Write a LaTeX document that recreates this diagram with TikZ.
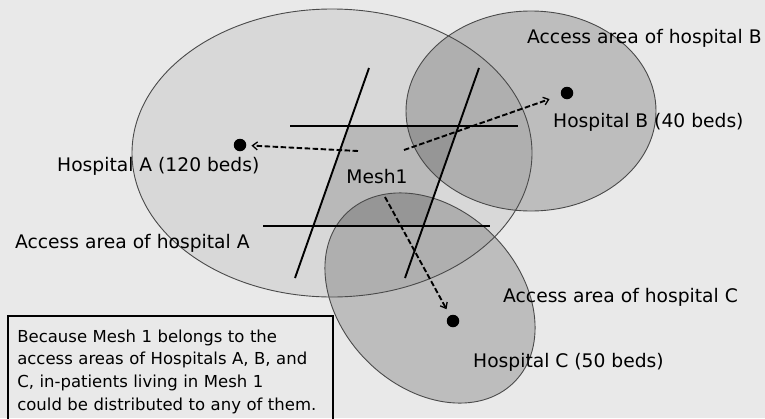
\documentclass[tikz,border=0pt]{standalone}
\usepackage{fontspec}
\setmainfont{DejaVu Sans}
\usepackage{xcolor}
\usepackage{tikz}
\usetikzlibrary{arrows.meta,positioning,calc}
\definecolor{paper}{HTML}{E9E9E9}
\definecolor{rimgray}{HTML}{4A4A4A}

\begin{document}
\begin{tikzpicture}[
  x=1pt,y=-1pt,
  every node/.style={font=\fontsize{18.7}{22}\selectfont,inner sep=0pt},
  areaA/.style={fill=black,fill opacity=0.07},
  areaBC/.style={fill=black,fill opacity=0.19},
  cellfill/.style={fill=black,fill opacity=0.14},
  rim/.style={draw=rimgray,line width=0.9pt},
  gridline/.style={draw=black,line width=1.9pt},
  hosp/.style={circle,fill=black,minimum size=12.5pt},
  flow/.style={-{Straight Barb[length=5pt,width=8pt,line width=1.3pt]},draw=black,line width=1.9pt,dash pattern=on 5.5pt off 2.5pt},
  tag/.style={anchor=west},
  notebox/.style={draw=black,line width=1.6pt,anchor=north west,align=left,text width=306pt,inner xsep=9.5pt,inner ysep=14pt,font=\fontsize{16.5}{22.6}\selectfont}
]
  \fill[paper] (0,0) rectangle (765,418);
  \useasboundingbox (0,0) rectangle (765,418);
  % access areas
  \fill[areaA] (332,153) ellipse [x radius=200pt,y radius=144pt];
  \fill[areaBC] (531,111) ellipse [x radius=125pt,y radius=100pt];
  \fill[areaBC,rotate around={-45:(430,298)}] (430,298) ellipse [x radius=119pt,y radius=89pt];
  \fill[cellfill] (348.6,126) -- (458.6,126) -- (423.3,226) -- (313.3,226) -- cycle;
  \draw[rim] (332,153) ellipse [x radius=200pt,y radius=144pt];
  \draw[rim] (531,111) ellipse [x radius=125pt,y radius=100pt];
  \draw[rim,rotate around={-45:(430,298)}] (430,298) ellipse [x radius=119pt,y radius=89pt];
  % mesh grid
  \draw[gridline] (290,126) -- (518,126);
  \draw[gridline] (263,226) -- (490,226);
  \draw[gridline] (369,68) -- (295,278);
  \draw[gridline] (479,68) -- (405,278);
  \node[hosp] (hA) at (240,145) {};
  \node[hosp] (hB) at (567,93) {};
  \node[hosp] (hC) at (453,321) {};
  \node (mesh) at (377,177) {Mesh1};
  \coordinate (tA) at (358,151);
  \coordinate (tB) at (404,150);
  \coordinate (tC) at (385,197);
  \draw[flow,shorten >=5pt] (tA) -- (hA);
  \draw[flow,shorten >=12pt] (tB) -- (hB);
  \draw[flow,shorten >=7pt] (tC) -- (hC);
  \node[tag] (labA) at (57,166) {Hospital A (120 beds)};
  \node[tag] (labB) at (553,122) {Hospital B (40 beds)};
  \node[tag] (labC) at (473,362) {Hospital C (50 beds)};
  \node[tag] (areaAtxt) at (15,243) {Access area of hospital A};
  \node[tag] (areaBtxt) at (527,38) {Access area of hospital B};
  \node[tag] (areaCtxt) at (503,297) {Access area of hospital C};
  \node[notebox] (note) at (7,315) {Because Mesh 1 belongs to the\\access areas of Hospitals A, B, and\\C, in-patients living in Mesh 1\\could be distributed to any of them.};
\end{tikzpicture}
\end{document}
